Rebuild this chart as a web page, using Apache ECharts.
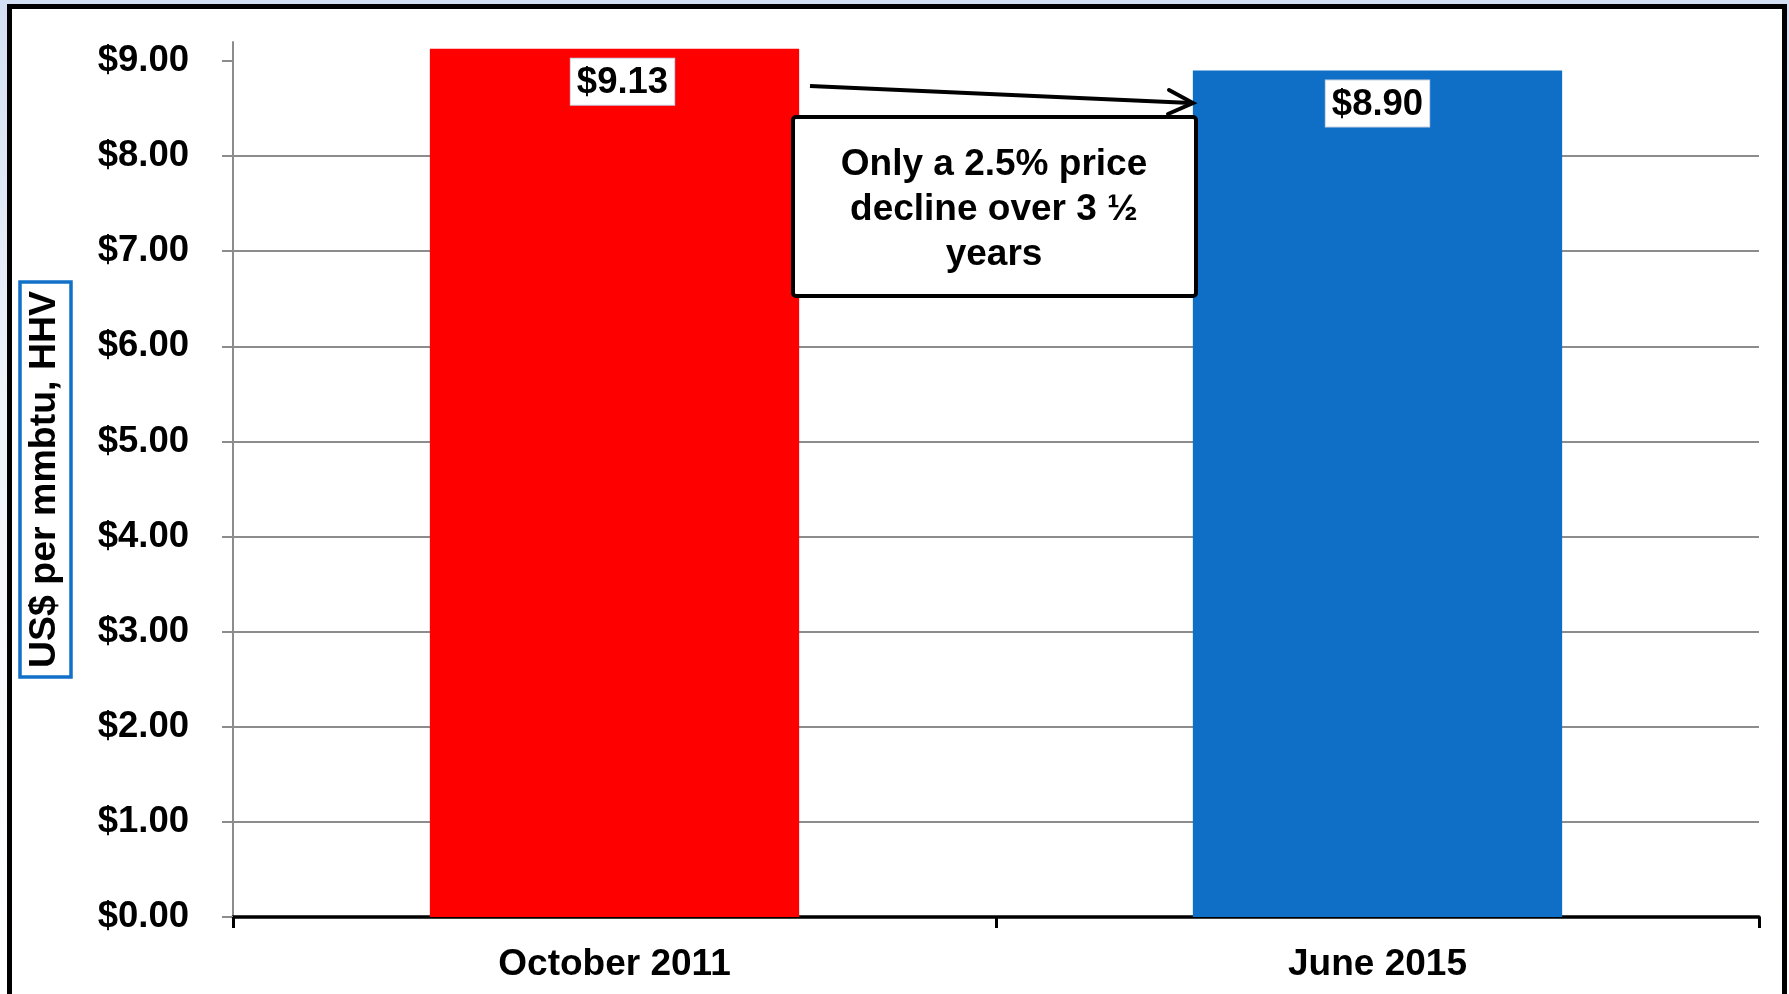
<!DOCTYPE html>
<html>
<head>
<meta charset="utf-8">
<script src="https://cdn.jsdelivr.net/npm/echarts@6/dist/echarts.min.js"></script>
<style>
  html, body { margin: 0; padding: 0; }
  body {
    width: 1789px; height: 994px; overflow: hidden; position: relative;
    background: linear-gradient(to bottom, #d3dff2 0%, #eef3fa 40%, #ffffff 100%);
  }
  #frame {
    position: absolute; left: 7px; top: 4px; width: 1770px; height: 1010px;
    border: 5px solid #000; background: #fff;
  }
  #chart { position: absolute; left: 0; top: 0; width: 1789px; height: 994px; }
</style>
</head>
<body>
<div id="frame"></div>
<div id="chart"></div>
<script>
// data
var categories = ["October 2011", "June 2015"];
var prices = [9.13, 8.90];
var barColors = ["#ff0000", "#0f6fc6"];
var tickValues = [0, 1, 2, 3, 4, 5, 6, 7, 8, 9];
var yName = "US$ per mmbtu, HHV";
var noteText = "Only a 2.5% price\ndecline over 3 \u00bd\nyears";

var font = "Arial, 'Liberation Sans', sans-serif";
var myChart = echarts.init(document.getElementById("chart"));

var barData = prices.map(function (v, i) {
  var item = { value: v, itemStyle: { color: barColors[i] } };
  if (i == 0) {
    item.label = { offset: [8, 0] };
  }
  return item;
});

var option = {
  animation: false,
  textStyle: { fontFamily: font },
  grid: { left: 233, right: 30, top: 42, bottom: 77 },
  xAxis: {
    type: "category",
    data: categories,
    boundaryGap: true,
    axisLine: { lineStyle: { color: "#000", width: 3.5 } },
    axisTick: { show: true, length: 11, lineStyle: { color: "#000", width: 3 } },
    axisLabel: {
      margin: 29,
      color: "#000",
      fontSize: 37,
      fontWeight: "bold",
      fontFamily: font,
    },
    splitLine: { show: false },
  },
  yAxis: {
    type: "value",
    min: 0,
    max: 9.2,
    interval: 1,
    name: yName,
    nameLocation: "middle",
    nameRotate: 90,
    nameGap: 162,
    nameTextStyle: {
      color: "#000",
      fontSize: 37.5,
      fontWeight: "bold",
      fontFamily: font,
      borderColor: "#1170c8",
      borderWidth: 3.5,
      padding: [4, 9, 6, 9],
      lineHeight: 41,
    },
    axisLine: { show: true, lineStyle: { color: "#8c8c8c", width: 2 } },
    axisTick: {
      show: true,
      inside: false,
      length: 11,
      customValues: tickValues,
      lineStyle: { color: "#8c8c8c", width: 2 },
    },
    axisLabel: {
      margin: 44,
      color: "#000",
      fontSize: 36.5,
      fontWeight: "bold",
      fontFamily: font,
      customValues: tickValues,
      formatter: function (v) {
        return "$" + v.toFixed(2);
      },
    },
    splitLine: {
      show: true,
      showMaxLine: false,
      lineStyle: { color: "#8c8c8c", width: 2 },
    },
  },
  series: [
    {
      type: "bar",
      data: barData,
      barWidth: "48.4%",
      label: {
        show: true,
        position: "insideTop",
        distance: 10,
        color: "#000",
        fontSize: 36.5,
        fontWeight: "bold",
        fontFamily: font,
        lineHeight: 38,
        backgroundColor: "#fff",
        borderColor: "#c9d2e3",
        borderWidth: 1,
        padding: [5, 6, 3, 6],
        formatter: function (p) {
          return "$" + p.value.toFixed(2);
        },
      },
    },
  ],
  graphic: [
    {
      type: "rect",
      shape: { x: 793, y: 117, width: 403, height: 179, r: 3 },
      style: { fill: "#fff", stroke: "#000", lineWidth: 4 },
      z: 10,
    },
    {
      type: "text",
      x: 994,
      y: 210,
      style: {
        text: noteText,
        fill: "#000",
        font: "bold 37px " + font,
        lineHeight: 45,
        align: "center",
        verticalAlign: "middle",
      },
      z: 11,
    },
    {
      type: "polyline",
      shape: { points: [[810, 86], [1191, 103]] },
      style: { stroke: "#000", lineWidth: 4, fill: null },
      z: 10,
    },
    {
      type: "polyline",
      shape: { points: [[1169, 90], [1193, 103], [1168, 114]] },
      style: { stroke: "#000", lineWidth: 4, fill: null, lineCap: "round", lineJoin: "miter" },
      z: 10,
    },
  ],
};

myChart.setOption(option);
</script>
</body>
</html>
